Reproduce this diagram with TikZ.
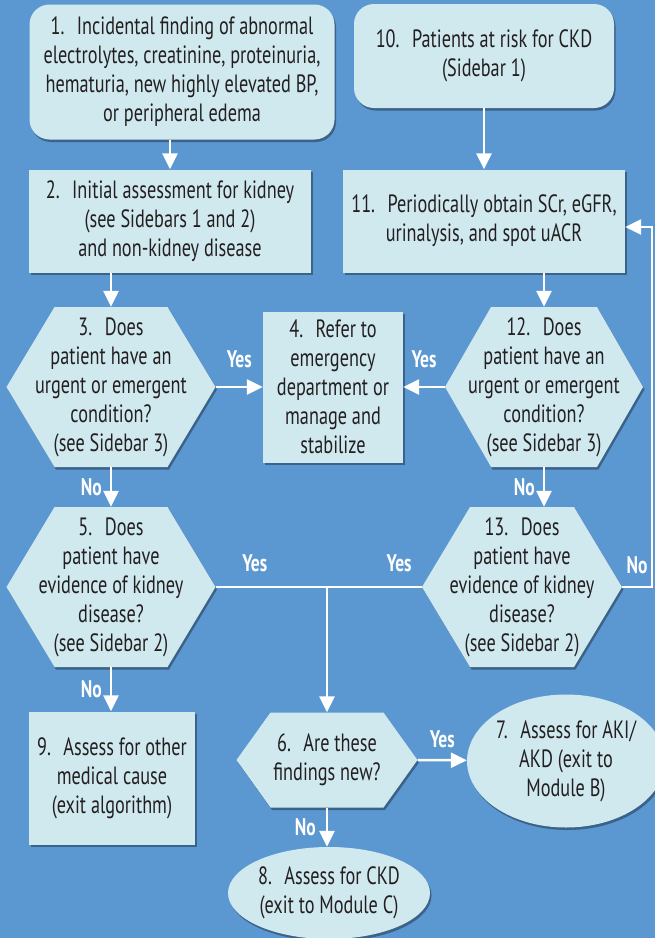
\documentclass[tikz,border=0pt]{standalone}
\usepackage{fontspec}
\setmainfont[FakeStretch=0.73]{PT Sans}
\usetikzlibrary{calc,arrows.meta,shapes.geometric,shadows}
\definecolor{bgblue}{HTML}{5B97D1}
\definecolor{boxfill}{HTML}{D0E9EF}
\definecolor{boxtext}{HTML}{231F20}
\newcommand\boxfont{\fontsize{25}{29}\selectfont}
\newcommand\answerfont{\fontsize{24}{26}\selectfont\bfseries}
\tikzset{
  boxshade/.style={drop shadow={shadow xshift=1.5pt,shadow yshift=-2.5pt,fill=black,opacity=0.35}},
  stepbox/.style={rectangle,fill=boxfill,boxshade,text=boxtext,align=center,inner sep=0pt,font=\boxfont},
  roundbox/.style={stepbox,rounded corners=20pt},
  exitbox/.style={stepbox,ellipse},
  hexfill/.style={fill=boxfill,boxshade},
  hextext/.style={rectangle,text=boxtext,align=center,inner sep=0pt,font=\boxfont},
  flow/.style={draw=white,line width=2.5pt},
  flowarrow/.style={flow,-{Triangle[width=15pt,length=16pt]}},
  answer/.style={text=white,font=\answerfont,inner sep=0pt},
}
% hexagon: (name)(centre)(width:height:inset){text}
\def\hexbox(#1)(#2)(#3:#4:#5)#6{%
  \path[hexfill] ($(#2)+(-#3/2,0)$) -- ($(#2)+(-#3/2+#5,-#4/2)$) -- ($(#2)+(#3/2-#5,-#4/2)$) -- ($(#2)+(#3/2,0)$) -- ($(#2)+(#3/2-#5,#4/2)$) -- ($(#2)+(-#3/2+#5,#4/2)$) -- cycle;
  \node[hextext,minimum width=#3,minimum height=#4] (#1) at (#2) {#6};}

\begin{document}
\begin{tikzpicture}[x=1pt,y=-1pt]
  \useasboundingbox (0,0) rectangle (655,938);
  \fill[bgblue] (0,0) rectangle (655,938);

  %% top row
  \node[roundbox,minimum width=305,minimum height=135] (n1) at (182,72) {1.\enspace Incidental finding of abnormal\\electrolytes, creatinine, proteinuria,\\hematuria, new highly elevated BP,\\or peripheral edema};
  \node[roundbox,minimum width=260,minimum height=104] (n10) at (484,56) {10.\enspace Patients at risk for CKD\\(Sidebar 1)};

  \node[stepbox,minimum width=282,minimum height=103] (n2) at (170,221) {2.\enspace Initial assessment for kidney\\(see Sidebars 1 and 2)\\and non-kidney disease};
  \node[stepbox,minimum width=282,minimum height=103] (n11) at (484,221) {11.\enspace Periodically obtain SCr, eGFR,\\urinalysis, and spot uACR};

  %% questions
  \hexbox(q3)(111,387)(209:160:48){3.\enspace Does\\patient have an\\urgent or emergent\\condition?\\(see Sidebar 3)}
  \node[stepbox,minimum width=140,minimum height=151] (n4) at (333,387) {4.\enspace Refer to\\emergency\\department or\\manage and\\stabilize};
  \hexbox(q12)(544,387)(198:160:46){12.\enspace Does\\patient have an\\urgent or emergent\\condition?\\(see Sidebar 3)}

  \hexbox(q5)(111,587)(209:160:48){5.\enspace Does\\patient have\\evidence of kidney\\disease?\\(see Sidebar 2)}
  \hexbox(q13)(522,587)(200:160:48){13.\enspace Does\\patient have\\evidence of kidney\\disease?\\(see Sidebar 2)}

  %% exits
  \node[stepbox,minimum width=166,minimum height=133] (n9) at (112,778) {9.\enspace Assess for other\\medical cause\\(exit algorithm)};
  \hexbox(q6)(327,760)(181:95:34){6.\enspace Are these\\findings new?}
  \node[exitbox,minimum width=180,minimum height=133] (n7) at (566,761) {7.\enspace Assess for AKI/\\AKD (exit to\\Module B)};
  \node[exitbox,minimum width=202,minimum height=92] (n8) at (329,893) {8.\enspace Assess for CKD\\(exit to Module C)};

  %% connectors
  \draw[flowarrow] (n1.south -| n2.north) -- (n2.north);
  \draw[flowarrow] (n10) -- (n11);
  \draw[flowarrow] (n2.south -| q3.north) -- (q3.north);
  \draw[flowarrow] (n11.south -| q12.north) -- (q12.north);
  \draw[flowarrow] (q3.east) -- node[answer,above=18pt] {Yes} (n4.west);
  \draw[flowarrow] (q12.west) -- node[answer,above=18pt] {Yes} (n4.east);
  \draw[flowarrow] (q3.south) -- node[answer,left=8pt] {No} (q5.north);
  \draw[flowarrow] (q12.south) -- node[answer,left=8pt] {No} (q12.south |- q13.north);
  \draw[flow] (q5.east) -- node[answer,above=14pt,pos=0.19] {Yes} node[answer,above=14pt,pos=0.89] {Yes} (q13.west);
  \coordinate (split) at (q5.east -| q6.north);
  \draw[flowarrow] (split) -- (q6.north);
  \coordinate (loop) at (652,227);
  \draw[flowarrow] (q13.east) -- node[answer,above=12pt] {No} (q13.east -| loop) -- (loop) -- (loop -| n11.east);
  \draw[flowarrow] (q5.south) -- node[answer,left=8pt] {No} (q5.south |- n9.north);
  \draw[flowarrow] (q6.east) -- node[answer,above=11pt] {Yes} (n7);
  \draw[flowarrow] (q6.south) -- node[answer,left=10pt] {No} (q6.south |- n8.north);
\end{tikzpicture}
\end{document}
